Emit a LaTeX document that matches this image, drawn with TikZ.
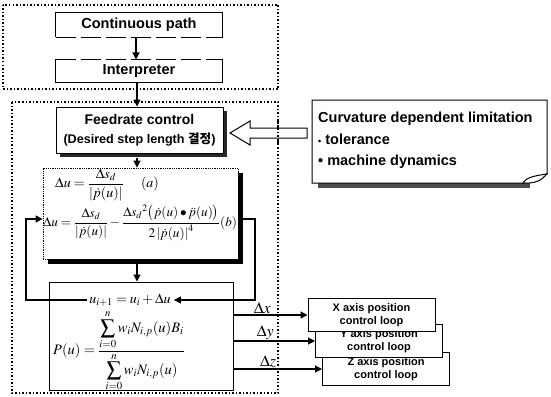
\documentclass[tikz,border=0pt]{standalone}
\usepackage{amsmath}
\usepackage{mathptmx}
\usepackage{fontspec}
\setmainfont{Liberation Sans}
\newfontfamily\kr{Noto Sans CJK KR}
\usetikzlibrary{arrows.meta,shadows}
\begin{document}
\begin{tikzpicture}[x=1pt,y=-1pt,
  box/.style={draw, line width=1pt, fill=white, inner sep=0pt, align=center,
    font=\bfseries\fontsize{14.5}{16}\selectfont},
  outerbox/.style={draw, line width=1.5pt, dotted},
  arr/.style={-{Triangle[length=7pt,width=7pt]}, line width=1.2pt},
  axisbox/.style={draw, line width=1pt, fill=white, inner sep=0pt, align=center,
    minimum width=127pt, minimum height=33pt,
    font=\bfseries\fontsize{11}{13}\selectfont},
  mathnode/.style={inner sep=0pt, font=\fontsize{13}{15}\selectfont},
  dlabel/.style={font=\fontsize{16}{18}\selectfont, inner sep=1pt}
]
\useasboundingbox (0,0) rectangle (551,396);
\fill[white] (0,0) rectangle (551,396);

% outer dotted groups
\draw[outerbox] (3,5) rectangle (278,89);
\draw[outerbox] (12,102) rectangle (278,393);

% top boxes
\node[box, draw=none, minimum width=166pt, minimum height=24pt] (cont) at (139,25) {Continuous path};
\draw[line width=1pt] (cont.south west) -- (cont.north west) -- (cont.north east) -- (cont.south east);
\draw[line width=1pt, dash pattern=on 20pt off 5pt] (cont.south west) -- (cont.south east);

\node[box, draw=none, minimum width=166pt, minimum height=22pt] (interp) at (139,71) {Interpreter};
\draw[line width=1pt] (interp.north west) -- (interp.south west) -- (interp.south east) -- (interp.north east);
\draw[line width=1pt, dash pattern=on 20pt off 5pt] (interp.north west) -- (interp.north east);

\draw[arr] (cont.south -| 136,0) -- (interp.north -| 136,0);

% feedrate
\node[box, minimum width=167pt, minimum height=46pt,
  drop shadow={shadow xshift=4pt, shadow yshift=-4pt, fill=black!85, opacity=1}] (feed) at (139.5,130)
  {\fontsize{14}{16}\selectfont Feedrate control\\[3pt]\fontsize{12.6}{14}\selectfont (Desired step length {\kr\bfseries 결정})};
\draw[arr] (interp.south -| 137,0) -- (feed.north -| 137,0);

% formula box
\node[draw, densely dotted, line width=0.8pt, fill=white, minimum width=195pt, minimum height=91pt, inner sep=0pt,
  drop shadow={shadow xshift=5pt, shadow yshift=-5pt, fill=black, opacity=1}] (form) at (140.5,213.5) {};
\draw[arr] ([yshift=-4pt]feed.south -| 137,0) -- (form.north -| 137,0);
\node[mathnode, anchor=west, font=\fontsize{14}{16}\selectfont] (eqa) at (55,185)
  {$\Delta u=\dfrac{\Delta s_d}{\left|\dot p(u)\right|}\quad\; (a)$};
\node[mathnode, anchor=west, font=\fontsize{13.2}{15}\selectfont] (eqb) at (43,223)
  {$\Delta u=\dfrac{\Delta s_d}{\left|\dot p(u)\right|}-\dfrac{\Delta s_d{}^2\bigl(\dot p(u)\bullet\ddot p(u)\bigr)}{2\left|\dot p(u)\right|^4}(b)$};

% lower box
\node[draw, line width=1pt, fill=white, minimum width=184pt, minimum height=108pt, inner sep=0pt] (low) at (141,336) {};
\draw[arr] ([yshift=-5pt]form.south -| 137,0) -- (low.north -| 137,0);
\node[mathnode, font=\fontsize{14}{16}\selectfont] (ueq) at (130,300) {$u_{i+1}=u_i+\Delta u$};
\node[mathnode, anchor=west, font=\fontsize{14.5}{17}\selectfont] (peq) at (53,351)
  {$P(u)=\dfrac{\displaystyle\sum_{i=0}^{n} w_i N_{i,p}(u) B_i}{\displaystyle\sum_{i=0}^{n} w_i N_{i,p}(u)}$};

% feedback loops
\coordinate (fl) at (26,219);
\coordinate (fr) at (255,219);
\draw[arr] ([xshift=-2pt]ueq.west) -| (fl) -- (form.west |- fl);
\draw[arr] ([xshift=5pt]form.east |- fr) -- (fr) |- ([xshift=3pt]ueq.east);

% axis boxes
\node[axisbox] (zb) at (386,369) {Z axis position\\control loop};
\node[axisbox] (yb) at (379,341) {Y axis position\\control loop};
\node[axisbox] (xb) at (371.5,315) {X axis position\\control loop};

\draw[arr] (low.east |- xb.west) -- node[dlabel, pos=0.39, above] {$\Delta x$} (xb.west);
\draw[arr] (low.east |- yb.west) -- node[dlabel, pos=0.39, above] {$\Delta y$} (yb.west);
\draw[arr] (low.east |- zb.west) -- node[dlabel, pos=0.39, above] {$\Delta z$} (zb.west);

% curvature note
\fill[black!70] (318,183) rectangle (530,188);
\draw[line width=1pt, fill=white] (312,100) -- (547,100) -- (547,174)
  .. controls (540,176) and (530,178) .. (523,183) -- (312,183) -- cycle;
\draw[line width=1pt, fill=white] (523,183) .. controls (526,178) and (532,176) .. (547,174)
  .. controls (542,180) and (535,184) .. (523,183) -- cycle;
\node[anchor=north west, inner sep=0pt, align=left, font=\bfseries\fontsize{14.5}{21.5}\selectfont] (curv) at (318,112)
  {Curvature dependent limitation\\{\fontsize{9}{9}\selectfont\textbullet} tolerance\\\textbullet{} machine dynamics};

% open arrow
\draw[line width=1pt, fill=white] (307,128) -- (250,128) -- (250,121) -- (230,133) -- (250,145) -- (250,138) -- (307,138) -- cycle;
\draw[line width=1.5pt, dotted] (278,121) -- (278,145);
\end{tikzpicture}
\end{document}
